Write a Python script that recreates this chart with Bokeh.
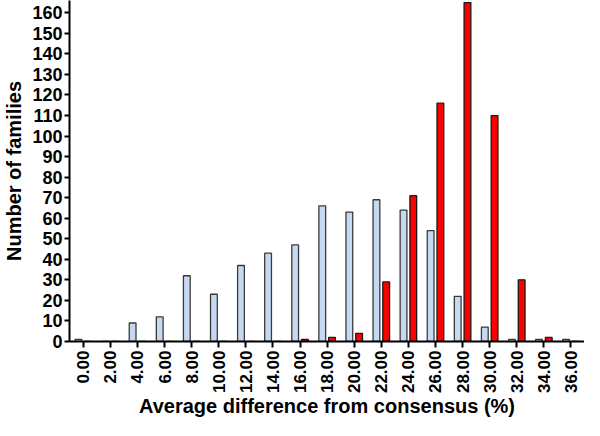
import math
from bokeh.plotting import figure
from bokeh.models import FixedTicker, Range1d
from bokeh.embed import file_html
from bokeh.resources import INLINE

bins = [0, 2, 4, 6, 8, 10, 12, 14, 16, 18, 20, 22, 24, 26, 28, 30, 32, 34, 36]
tick_labels = ["0.00", "2.00", "4.00", "6.00", "8.00", "10.00", "12.00", "14.00", "16.00",
               "18.00", "20.00", "22.00", "24.00", "26.00", "28.00", "30.00", "32.00",
               "34.00", "36.00"]
blue_counts = [1, 0, 9, 12, 32, 23, 37, 43, 47, 66, 63, 69, 64, 54, 22, 7, 1, 1, 1]
red_counts = [0, 0, 0, 0, 0, 0, 0, 0, 1, 2, 4, 29, 71, 116, 165, 110, 30, 2, 0]
y_ticks = list(range(0, 161, 10))

FONT = "Liberation Sans"

p = figure(width=584, height=420, output_backend="svg", toolbar_location=None,
           x_range=Range1d(-1.02, 37.0), y_range=Range1d(0, 166),
           min_border_left=64, min_border_right=0, min_border_top=0, min_border_bottom=60)
p.outline_line_color = None
p.xgrid.grid_line_color = None
p.ygrid.grid_line_color = None
p.background_fill_color = "white"

bw = 0.5
off = 0.36
p.vbar(x=[b - off for b in bins], top=blue_counts, width=bw, bottom=0,
       fill_color="#c6d9f1", line_color="#3a3a3a", line_width=1.3)
p.vbar(x=[b + off for b in bins], top=red_counts, width=bw, bottom=0,
       fill_color="#ff0000", line_color="#1a1a1a", line_width=1.3)

xa = p.xaxis[0]
xa.ticker = FixedTicker(ticks=bins)
xa.major_label_overrides = {b: t for b, t in zip(bins, tick_labels)}
xa.major_label_orientation = math.pi / 2
xa.axis_label = "Average difference from consensus (%)"
ya = p.yaxis[0]
ya.ticker = FixedTicker(ticks=y_ticks)
ya.axis_label = "Number of families"

for ax in (xa, ya):
    ax.axis_line_width = 2
    ax.axis_line_color = "black"
    ax.major_tick_line_width = 2
    ax.major_tick_line_color = "black"
    ax.major_tick_in = 0
    ax.minor_tick_line_color = None
    ax.major_label_text_font = FONT
    ax.major_label_text_font_style = "bold"
    ax.major_label_text_font_size = "18px"
    ax.major_label_text_color = "black"
    ax.axis_label_text_font = FONT
    ax.axis_label_text_font_style = "bold"
    ax.axis_label_text_font_size = "20px"
    ax.axis_label_text_color = "black"

xa.major_label_text_font_size = "17px"
xa.major_tick_out = 6
xa.major_label_standoff = 3
xa.axis_label_standoff = -1
ya.major_tick_out = 5
ya.major_label_standoff = 2
ya.axis_label_standoff = 4

open("out.html", "w").write(file_html(p, INLINE))
